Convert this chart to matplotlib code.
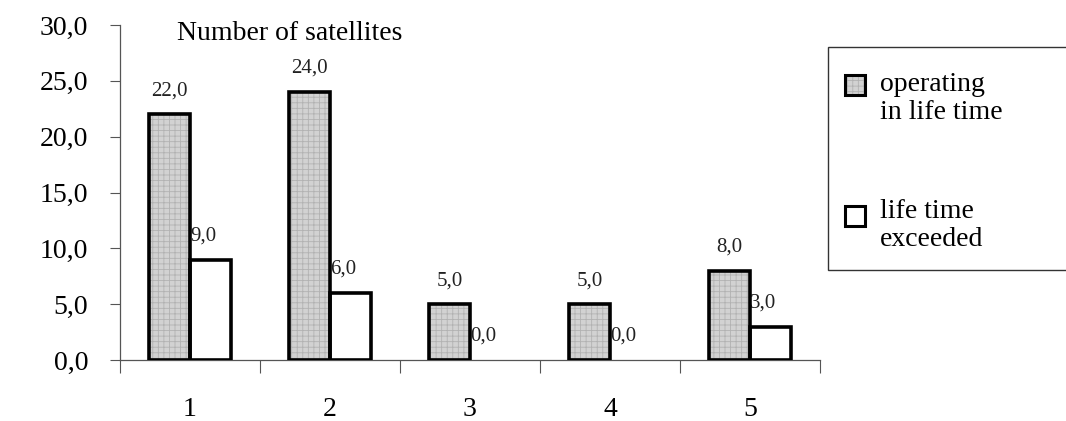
import numpy as np
import matplotlib.pyplot as plt
from matplotlib.patches import Rectangle

plt.rcParams['font.family'] = ['Liberation Serif', 'DejaVu Serif']
plt.rcParams['hatch.linewidth'] = 0.6

# data
groups = ['1', '2', '3', '4', '5']
operating = [22.0, 24.0, 5.0, 5.0, 8.0]
exceeded = [9.0, 6.0, 0.0, 0.0, 3.0]
yticks = [0, 5, 10, 15, 20, 25, 30]

fig = plt.figure(figsize=(10.66, 4.21), dpi=100)
ax = fig.add_axes([120/1066, 1-360/421, 700/1066, 335/421])

x = np.arange(1, len(groups)+1)
w = 0.29
grey = '#d2d2d2'
tex = '#b2b2b2'

# grey bars: textured fill, then heavy outline on top
ax.bar(x - w/2, operating, w, color=grey, hatch='+++', edgecolor=tex,
       linewidth=0, zorder=3)
ax.bar(x - w/2, operating, w, fill=False, edgecolor='black', linewidth=2.6, zorder=4)
# zero bars leave no outline on the axis
lw_ex = [2.6 if v > 0 else 0 for v in exceeded]
ax.bar(x + w/2, exceeded, w, color='white', edgecolor='black', linewidth=lw_ex, zorder=3)

def fmt(v):
    return ('%.1f' % v).replace('.', ',')

for xi, v in zip(x - w/2, operating):
    ax.annotate(fmt(v), (xi, v), xytext=(0, 17), textcoords='offset points',
                ha='center', va='center', fontsize=15, color='#222', zorder=2)
for xi, v in zip(x + w/2, exceeded):
    ax.annotate(fmt(v), (xi, v), xytext=(-5, 17), textcoords='offset points',
                ha='center', va='center', fontsize=15, color='#222', zorder=2)

ax.set_xlim(0.5, 5.5)
ax.set_ylim(0, 30)
ax.set_yticks(yticks)
ax.set_yticklabels([fmt(t) for t in yticks], fontsize=20)
ax.set_xticks(x)
ax.set_xticklabels(groups, fontsize=20)
ax.set_xticks(np.arange(0.5, 6.0, 1.0), minor=True)

ax.tick_params(axis='y', direction='out', length=7, width=0.8, color='#555', pad=16)
ax.tick_params(axis='x', which='major', length=0, pad=27)
ax.tick_params(axis='x', which='minor', direction='out', length=9, width=0.8, color='#555')

for s in ['top', 'right']:
    ax.spines[s].set_visible(False)
for s in ['left', 'bottom']:
    ax.spines[s].set_color('#555')
    ax.spines[s].set_linewidth(0.9)

fig.text(177/1066, 1-33/421, 'Number of satellites', ha='left', va='center', fontsize=20)

# legend box, drawn by hand so the keys sit on the first text line
ft = fig.transFigure
fig.patches.append(Rectangle((828/1066, 1-270/421), 0.3, 223/421, transform=ft,
                             facecolor='white', edgecolor='#333', linewidth=1.0))
fig.patches.append(Rectangle((845/1066, 1-95/421), 20/1066, 20/421, transform=ft,
                             facecolor=grey, hatch='+++', edgecolor=tex, linewidth=0))
fig.patches.append(Rectangle((845/1066, 1-95/421), 20/1066, 20/421, transform=ft,
                             fill=False, edgecolor='black', linewidth=2.2))
fig.patches.append(Rectangle((845/1066, 1-226/421), 20/1066, 20/421, transform=ft,
                             facecolor='white', edgecolor='black', linewidth=2.2))
fig.text(880/1066, 1-72/421, 'operating\nin life time', ha='left', va='top',
         fontsize=20, linespacing=1.15)
fig.text(880/1066, 1-199/421, 'life time\nexceeded', ha='left', va='top',
         fontsize=20, linespacing=1.15)

fig.savefig('out.png', dpi=100, facecolor='white')
